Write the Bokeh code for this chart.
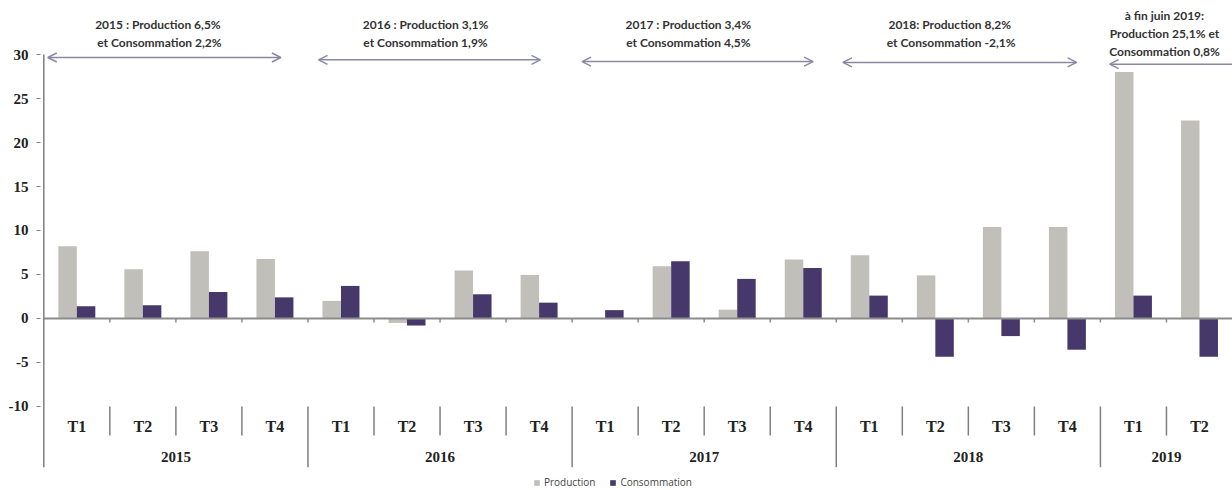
import numpy as np
from bokeh.plotting import figure
from bokeh.models import (ColumnDataSource, Range1d, FixedTicker, Arrow, OpenHead,
                          Legend, LegendItem, PrintfTickFormatter)
from bokeh.core.properties import value
from bokeh.embed import file_html
from bokeh.resources import INLINE

# ---------------- data ----------------
quarters = ["T1", "T2", "T3", "T4", "T1", "T2", "T3", "T4", "T1", "T2", "T3", "T4",
            "T1", "T2", "T3", "T4", "T1", "T2"]
years = ["2015", "2016", "2017", "2018", "2019"]
year_sizes = [4, 4, 4, 4, 2]
production = [8.2, 5.6, 7.65, 6.75, 2.0, -0.5, 5.45, 4.95, 0.05, 5.95, 1.0, 6.7,
              7.2, 4.9, 10.4, 10.4, 28.0, 22.5]
consommation = [1.4, 1.5, 3.0, 2.4, 3.7, -0.8, 2.75, 1.8, 0.95, 6.5, 4.5, 5.75,
                2.6, -4.35, -2.0, -3.55, 2.6, -4.35]
y_ticks = [-10, -5, 0, 5, 10, 15, 20, 25, 30]

annotations = [
    ["2015 :  Production 6,5%", "et Consommation 2,2%"],
    ["2016 : Production 3,1%", "et Consommation 1,9%"],
    ["2017 : Production 3,4%", "et Consommation 4,5%"],
    ["2018:  Production 8,2%", "et Consommation -2,1%"],
    ["à fin juin 2019:", "Production 25,1% et", "Consommation 0,8%"],
]

PROD_COLOR = "#c0bfba"
CONS_COLOR = "#46386a"
GRID_COLOR = "#7f7f7f"
ARROW_COLOR = "#8a88a4"

n = len(quarters)
idx = np.arange(n)

p = figure(width=1232, height=490, output_backend="svg", toolbar_location=None,
           x_range=Range1d(-0.05, 18.0), y_range=Range1d(-19.55, 36.14),
           min_border_left=40, min_border_right=0, min_border_top=0, min_border_bottom=0)
p.outline_line_color = None
p.xgrid.visible = False
p.ygrid.visible = False
p.xaxis.visible = False

yax = p.yaxis[0]
yax.ticker = FixedTicker(ticks=y_ticks)
yax.formatter = PrintfTickFormatter(format="%d")
yax.axis_line_color = None
yax.major_tick_out = 4
yax.major_tick_in = 0
yax.minor_tick_out = 0
yax.minor_tick_in = 0
yax.major_tick_line_color = GRID_COLOR
yax.major_label_standoff = 8
yax.major_label_text_font = "Liberation Serif, serif"
yax.major_label_text_font_style = "bold"
yax.major_label_text_font_size = "15px"
yax.major_label_text_color = "#222222"

# bars
src = ColumnDataSource(dict(xp=idx + 0.36, xc=idx + 0.64, prod=production, cons=consommation))
r_prod = p.vbar(x="xp", top="prod", bottom=0, width=0.28, source=src,
                fill_color=PROD_COLOR, line_color=None)
r_cons = p.vbar(x="xc", top="cons", bottom=0, width=0.28, source=src,
                fill_color=CONS_COLOR, line_color=None)

# zero line and small ticks
p.segment(x0=[0], y0=[0], x1=[n], y1=[0], line_color="#8c8c8c", line_width=2)
p.segment(x0=idx[1:], y0=0, x1=idx[1:], y1=-0.45, line_color="#8c8c8c", line_width=1.5)

# axis line
p.segment(x0=[0], y0=[30], x1=[0], y1=[-16.9], line_color=GRID_COLOR, line_width=1.5)

# category separators
year_starts = np.cumsum([0] + year_sizes[:-1])
year_bounds = set(int(v) for v in year_starts[1:])
q_b = [i for i in range(1, n) if i not in year_bounds]
y_b = sorted(year_bounds)
p.segment(x0=q_b, y0=-10.0, x1=q_b, y1=-13.3, line_color=GRID_COLOR, line_width=1.5)
p.segment(x0=y_b, y0=-10.0, x1=y_b, y1=-16.9, line_color=GRID_COLOR, line_width=1.5)

# quarter labels
p.text(x=idx + 0.5, y=[-12.3] * n, text=quarters, text_align="center", text_baseline="middle",
       text_font=value("Liberation Serif"), text_font_style="bold", text_font_size="16px",
       text_color="#222222")
# year labels
year_centers = year_starts + np.array(year_sizes) / 2.0
p.text(x=year_centers, y=[-15.7] * len(years), text=years, text_align="center",
       text_baseline="middle", text_font=value("Liberation Serif"), text_font_style="bold",
       text_font_size="15px", text_color="#222222")

# annotation arrows
arrow_x0 = [0.06, 4.16, 8.15, 12.10]
arrow_x1 = [3.59, 7.52, 11.65, 15.64]
arrow_y = [29.66, 29.4, 29.2, 29.1]
for x0, x1, yy in zip(arrow_x0, arrow_x1, arrow_y):
    p.add_layout(Arrow(start=OpenHead(size=9, line_color=ARROW_COLOR, line_width=1.5),
                       end=OpenHead(size=9, line_color=ARROW_COLOR, line_width=1.5),
                       x_start=x0, y_start=yy, x_end=x1, y_end=yy,
                       line_color=ARROW_COLOR, line_width=1.5))
p.add_layout(Arrow(start=None, end=OpenHead(size=9, line_color=ARROW_COLOR, line_width=1.5),
                   x_start=18.0, y_start=28.9, x_end=16.14, y_end=28.9,
                   line_color=ARROW_COLOR, line_width=1.5))

# annotation texts
ann_x = [1.75, 5.78, 9.76, 13.74, 16.97]
tx, ty, tt = [], [], []
for k, lines in enumerate(annotations):
    if len(lines) == 2:
        ys = [33.4, 31.4]
    else:
        ys = [34.4, 32.35, 30.3]
    for line, yy in zip(lines, ys):
        tx.append(ann_x[k]); ty.append(yy); tt.append(line)
p.text(x=tx, y=ty, text=tt, text_align="center", text_baseline="middle",
       text_font=value("Lato"), text_font_style="bold", text_font_size="12px",
       text_color="#333333")

# legend
legend = Legend(items=[LegendItem(label="Production", renderers=[r_prod]),
                       LegendItem(label="Consommation", renderers=[r_cons])],
                orientation="horizontal", location=(493, 1),
                glyph_width=7, glyph_height=7, label_text_font="Open Sans",
                label_text_font_size="10px", label_text_color="#444444",
                label_standoff=4, spacing=14, padding=0, margin=0,
                border_line_color=None, background_fill_alpha=0,
                label_height=12)
p.add_layout(legend)

open("out.html", "w").write(file_html(p, INLINE))
